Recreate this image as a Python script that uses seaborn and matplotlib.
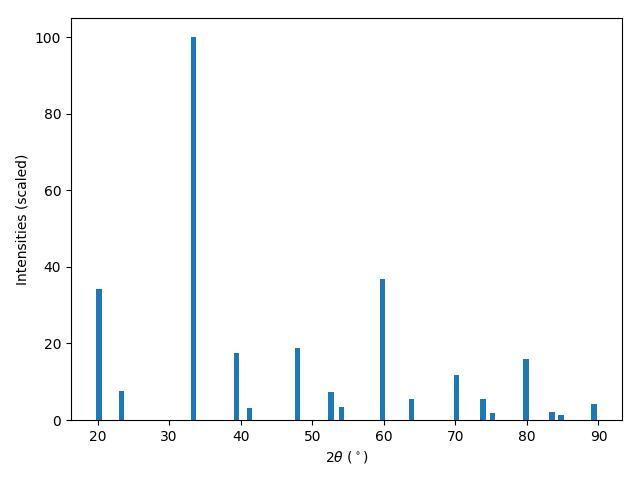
import matplotlib
matplotlib.use("Agg")
import matplotlib.pyplot as plt
import seaborn as sns

two_theta = [20.17, 23.34, 33.41, 39.39, 41.22, 47.96, 52.6, 54.08, 59.79,
             63.87, 70.17, 73.9, 75.2, 79.9, 83.5, 84.77, 89.4]
intensities = [34.3, 7.6, 100.0, 17.5, 3.1, 18.8, 7.3, 3.4, 36.9,
               5.5, 11.8, 5.5, 1.8, 16.0, 2.1, 1.3, 4.2]

color = sns.color_palette("tab10")[0]

fig, ax = plt.subplots(figsize=(6.4, 4.8), dpi=100)
ax.bar(two_theta, intensities, width=0.78, color=color)
ax.set_xlabel(r"$2\theta$ ($^\circ$)")
ax.set_ylabel("Intensities (scaled)")
fig.subplots_adjust(left=71 / 640, right=622 / 640, top=1 - 18 / 480, bottom=1 - 420 / 480)
plt.savefig("out.png", dpi=100)
plt.close()
